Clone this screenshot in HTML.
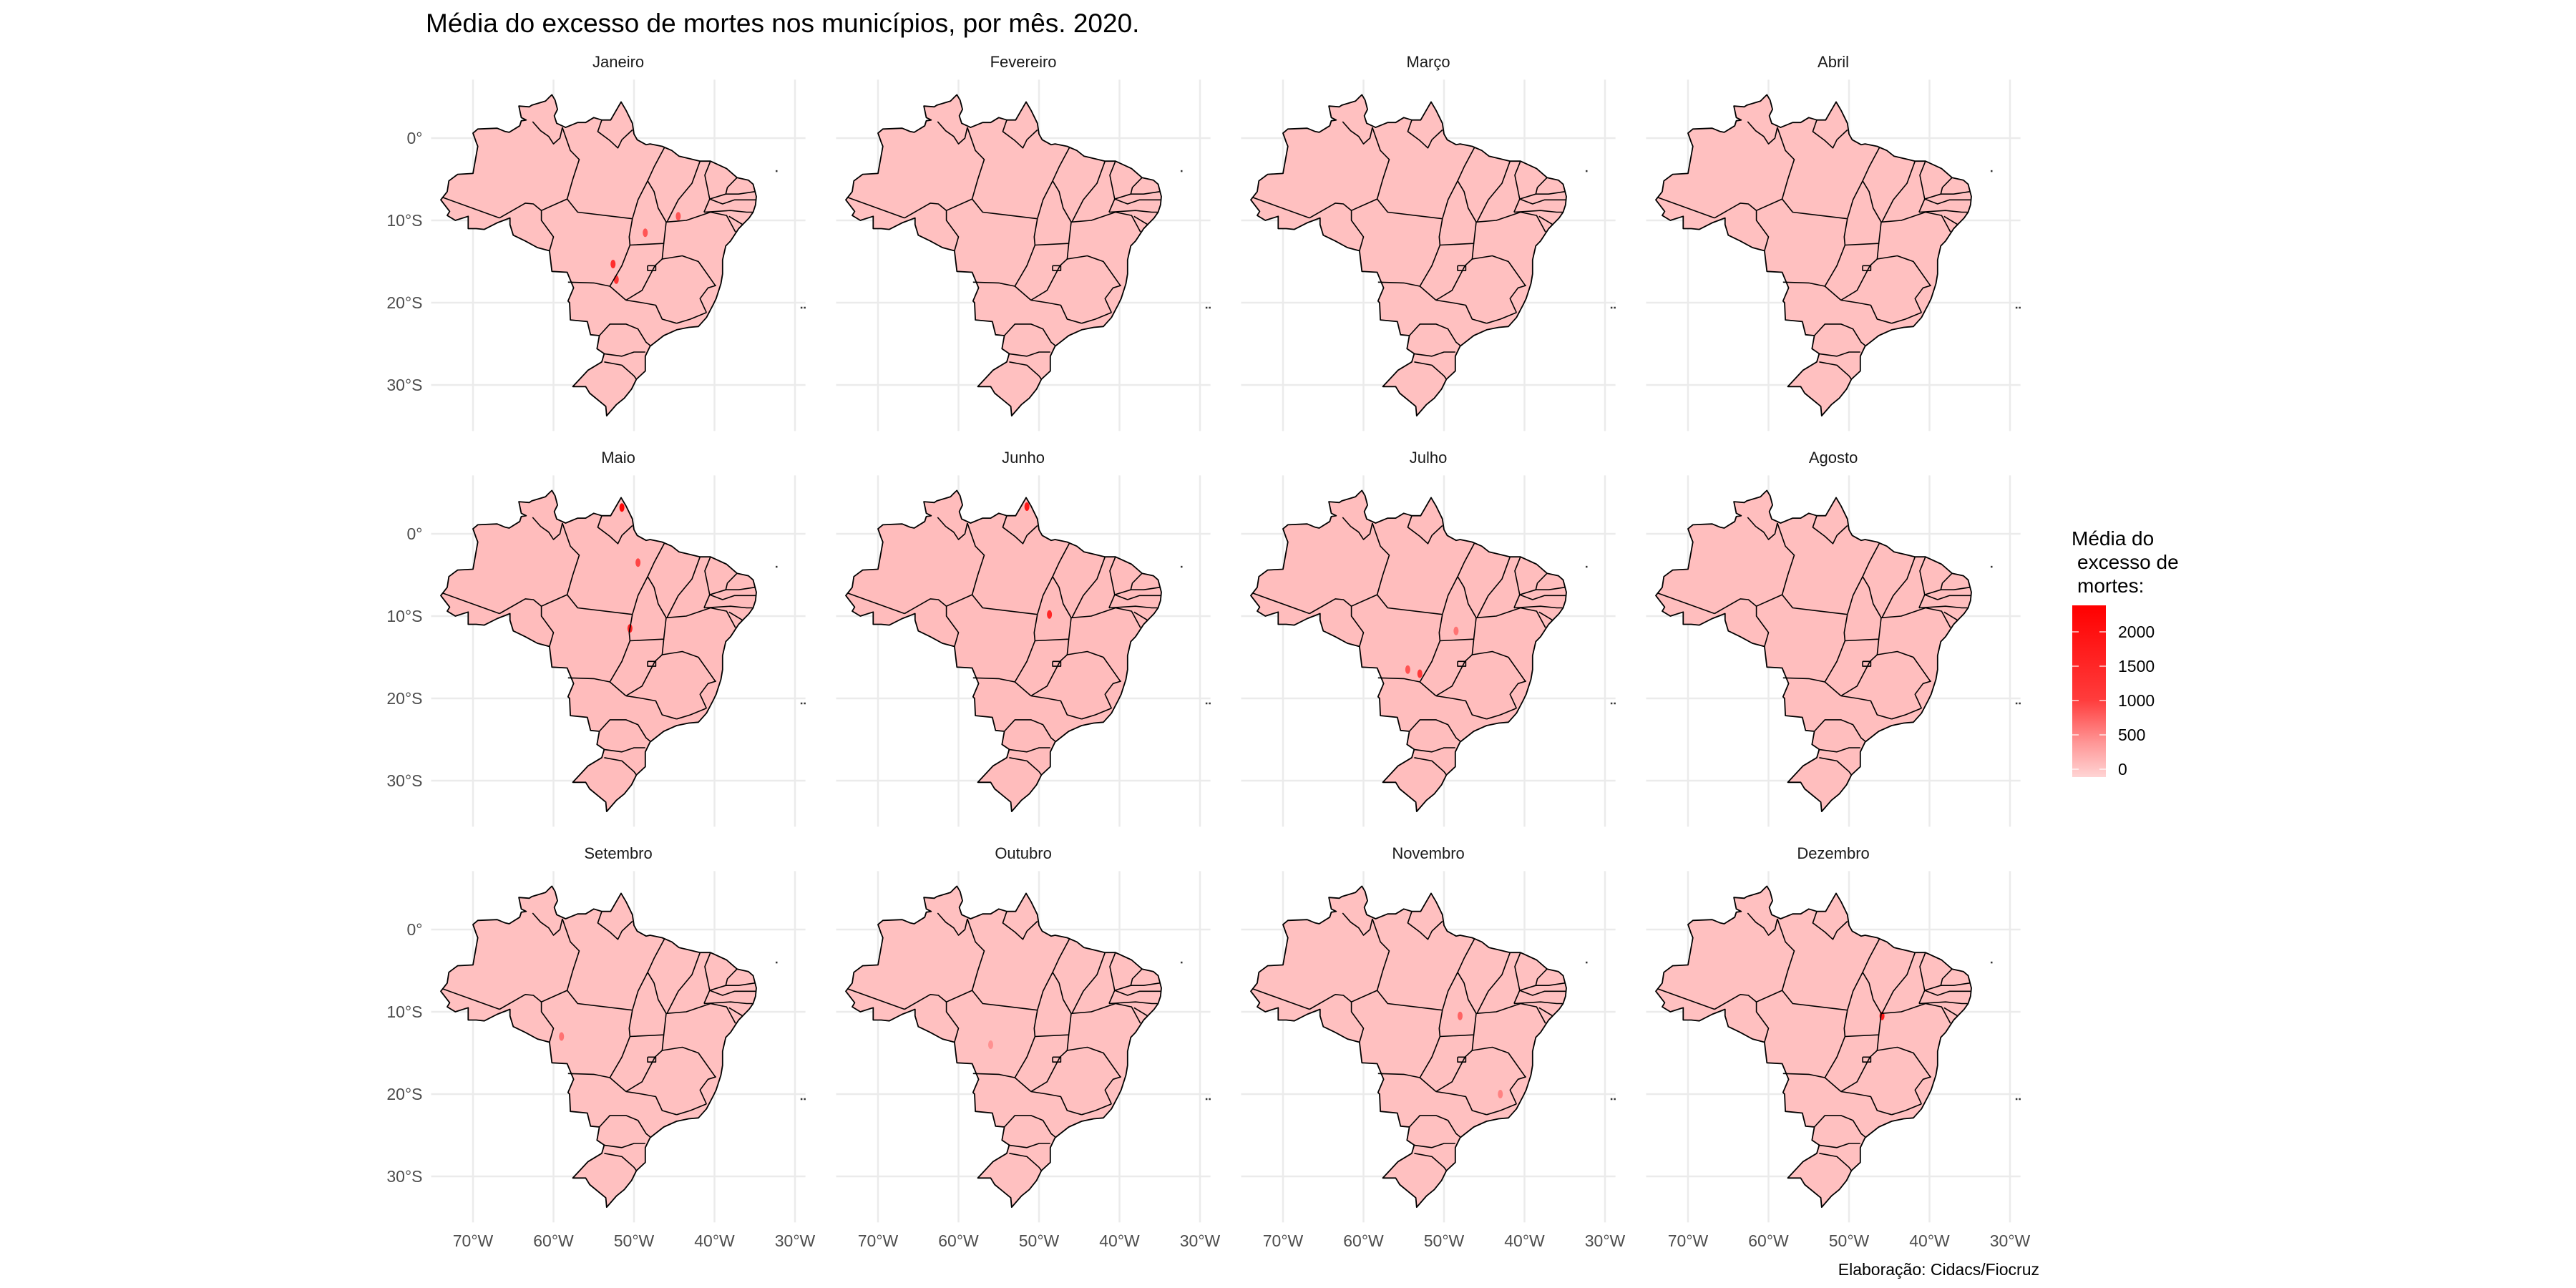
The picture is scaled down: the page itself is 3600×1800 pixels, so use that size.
<!DOCTYPE html>
<html><head><meta charset="utf-8">
<style>
html,body{margin:0;padding:0;background:#fff;}
svg{display:block;font-family:"Liberation Sans",sans-serif;}
</style></head>
<body>
<svg id="chart" width="3600" height="1800" viewBox="0 0 3600 1800" xmlns="http://www.w3.org/2000/svg">
<text x="595" y="45" font-size="37" fill="#000">Média do excesso de mortes nos municípios, por mês. 2020.</text>
<g id="panels"></g>
<g id="legend">
<text x="2895" y="762" font-size="28" fill="#000">Média do</text>
<text x="2903" y="795" font-size="28" fill="#000">excesso de</text>
<text x="2903" y="828" font-size="28" fill="#000">mortes:</text>
<defs><linearGradient id="lg" x1="0" y1="1" x2="0" y2="0">
<stop offset="0" stop-color="rgb(255,212,212)"/><stop offset="0.2" stop-color="rgb(255,150,150)"/><stop offset="0.45" stop-color="rgb(255,60,60)"/><stop offset="1" stop-color="rgb(255,0,0)"/></linearGradient></defs>
<rect x="2896" y="846" width="47" height="240" fill="url(#lg)"/>
<g id="legend-ticks"></g>
</g>
<text x="2850" y="1782" font-size="23" fill="#000" text-anchor="end">Elaboração: Cidacs/Fiocruz</text>
</svg>
<script>
const months = ["Janeiro","Fevereiro","Março","Abril","Maio","Junho","Julho","Agosto","Setembro","Outubro","Novembro","Dezembro"];
const baseValues = [150,155,155,155,185,185,175,165,155,155,155,155];
// hotspots per month: [lon, lat, value]
const hotspots = [
 [[-52.6,-15.3,1400],[-52.2,-17.2,1200],[-48.6,-11.5,900],[-44.5,-9.5,900]],
 [],
 [],
 [],
 [[-51.5,3.2,2200],[-49.5,-3.5,1000],[-50.5,-11.5,1600]],
 [[-51.5,3.3,1800],[-48.7,-9.8,1500]],
 [[-54.5,-16.5,900],[-53,-17,1100],[-48.5,-11.8,700]],
 [],
 [[-59,-13,700]],
 [[-56,-14,500]],
 [[-48,-10.5,800],[-43,-20,600]],
 [[-45.9,-10.5,1800]]
];
const latTicks = [0,-10,-20,-30];
const latLabels = ["0°","10°S","20°S","30°S"];
const lonTicks = [-70,-60,-50,-40,-30];
const lonLabels = ["70°W","60°W","50°W","40°W","30°W"];
const legendTicks = [0,500,1000,1500,2000];
const legendMax = 2350;

const outline = [[-51.6,4.4],[-51.0,3.4],[-50.2,1.8],[-50.0,0.5],[-49.6,-0.2],[-48.5,-0.8],[-48.0,-0.7],[-46.5,-1.0],[-45.3,-1.5],[-44.4,-2.2],[-43.5,-2.4],[-41.8,-2.8],[-40.5,-2.8],[-38.5,-3.7],[-37.2,-4.8],[-35.8,-5.1],[-35.2,-5.6],[-34.8,-7.1],[-34.9,-8.1],[-35.2,-9.0],[-35.7,-9.7],[-37.0,-11.0],[-38.0,-12.5],[-38.6,-13.1],[-39.0,-14.8],[-39.0,-16.5],[-39.2,-17.7],[-39.8,-19.5],[-40.2,-20.3],[-41.0,-21.8],[-42.0,-22.9],[-43.2,-23.0],[-44.7,-23.3],[-46.3,-24.0],[-48.0,-25.3],[-48.6,-26.5],[-48.6,-28.3],[-49.7,-29.3],[-50.3,-30.5],[-51.2,-31.6],[-52.2,-32.4],[-53.4,-33.75],[-53.5,-32.6],[-55.5,-31.0],[-56.0,-30.2],[-57.6,-30.2],[-55.7,-28.2],[-54.0,-27.2],[-53.7,-26.2],[-54.6,-25.6],[-54.3,-24.0],[-55.4,-23.9],[-55.8,-22.3],[-57.9,-22.1],[-58.0,-20.0],[-58.2,-19.8],[-57.5,-18.2],[-58.3,-16.3],[-60.2,-16.2],[-60.5,-13.7],[-62.0,-13.3],[-63.5,-12.5],[-65.0,-11.8],[-65.4,-10.5],[-65.4,-9.7],[-67.0,-10.3],[-68.6,-11.1],[-69.6,-11.0],[-70.6,-11.0],[-70.6,-9.5],[-72.2,-10.0],[-73.2,-9.4],[-72.9,-8.9],[-74.0,-7.5],[-73.2,-6.5],[-73.0,-5.2],[-71.9,-4.4],[-70.0,-4.3],[-69.4,-1.0],[-69.6,-0.5],[-70.0,0.6],[-69.4,1.1],[-67.0,1.2],[-66.0,0.8],[-65.5,0.7],[-64.2,1.5],[-64.0,2.1],[-63.4,2.2],[-64.0,2.5],[-64.3,3.9],[-63.0,3.8],[-62.7,4.0],[-61.0,4.5],[-60.6,4.9],[-60.2,5.27],[-59.8,4.6],[-59.5,3.5],[-59.9,2.7],[-59.6,1.8],[-58.5,1.3],[-57.0,1.9],[-56.0,1.9],[-55.0,2.5],[-54.0,2.2],[-52.9,2.2]];
const borders = [
 [[-62.6,2.0],[-61.6,0.9],[-60.6,0.2],[-60.0,-0.7],[-59.2,0.0],[-58.9,1.3]],
 [[-58.9,1.3],[-57.9,-1.5],[-56.8,-2.6],[-57.6,-5.0],[-58.3,-7.4]],
 [[-54.0,2.2],[-54.5,0.8],[-53.0,-0.3],[-52.0,-1.2],[-51.5,-0.2],[-50.2,1.0]],
 [[-73.8,-7.2],[-66.7,-9.7]],
 [[-66.7,-9.7],[-63.5,-7.9],[-62.5,-8.0],[-61.5,-8.8],[-61.5,-10.0],[-60.0,-12.0],[-60.5,-13.7]],
 [[-61.5,-8.8],[-58.3,-7.4],[-57.0,-9.0],[-50.2,-9.8]],
 [[-50.2,-9.8],[-49.5,-7.5],[-48.3,-5.2],[-47.5,-6.5],[-47.0,-8.5],[-46.0,-10.2],[-46.3,-12.8],[-50.5,-13.0]],
 [[-50.2,-9.8],[-50.6,-12.0],[-50.5,-13.0],[-51.5,-15.5],[-53.0,-18.0],[-51.0,-19.7]],
 [[-58.2,-17.5],[-55.0,-17.6],[-53.0,-18.0]],
 [[-48.3,-5.2],[-47.5,-3.5],[-46.2,-1.1]],
 [[-41.8,-2.8],[-42.8,-5.5],[-44.5,-7.5],[-45.9,-10.2]],
 [[-40.5,-2.8],[-41.2,-4.5],[-40.6,-7.4],[-41.3,-9.0]],
 [[-46.0,-10.2],[-43.5,-10.0],[-42.0,-9.5],[-40.5,-9.0],[-38.5,-9.4],[-37.4,-11.4]],
 [[-37.2,-4.8],[-38.4,-6.0],[-38.6,-6.8],[-37.0,-6.8],[-35.0,-6.5]],
 [[-38.6,-6.8],[-40.6,-7.4],[-39.0,-8.0],[-37.5,-7.5],[-34.8,-7.5]],
 [[-41.3,-9.0],[-38.0,-8.8],[-36.0,-9.0],[-35.2,-9.0]],
 [[-38.2,-9.5],[-36.5,-10.5],[-37.0,-11.0]],
 [[-46.3,-12.8],[-46.5,-14.7],[-44.0,-14.3],[-42.0,-15.0],[-39.9,-17.9]],
 [[-51.0,-19.7],[-49.0,-18.5],[-47.4,-15.5],[-46.5,-14.7]],
 [[-51.0,-19.7],[-49.0,-20.0],[-47.3,-20.3],[-46.5,-22.0],[-44.7,-22.5]],
 [[-44.7,-22.5],[-43.0,-22.0],[-41.0,-21.2]],
 [[-39.8,-17.9],[-40.8,-18.2],[-41.8,-19.5],[-41.0,-21.2]],
 [[-48.3,-15.5],[-47.3,-15.5],[-47.3,-16.1],[-48.3,-16.1],[-48.3,-15.5]],
 [[-54.3,-24.0],[-53.0,-22.6],[-51.0,-22.6],[-49.5,-23.2],[-48.5,-24.8],[-48.0,-25.2]],
 [[-53.8,-26.2],[-51.5,-26.5],[-50.0,-26.0],[-48.6,-26.0]],
 [[-53.7,-27.2],[-51.5,-27.6],[-50.0,-28.9],[-49.7,-29.3]]
];

const NS = "http://www.w3.org/2000/svg";
const panelsG = document.getElementById('panels');
const colW = 566, rowH = 553;
function mk(tag, attrs, parent){const e=document.createElementNS(NS,tag);for(const k in attrs)e.setAttribute(k,attrs[k]);parent.appendChild(e);return e;}
function xScale(col, lon){return 661 + col*colW + (lon+70)*11.25;}
function yScale(row, lat){return 193 + row*rowH + (-lat)*11.5;}
function colorFor(v){
 const t=Math.max(0,Math.min(1,v/legendMax));
 const stops=[[0,[255,212,212]],[0.2,[255,150,150]],[0.45,[255,60,60]],[1,[255,0,0]]];
 for(let i=1;i<stops.length;i++){if(t<=stops[i][0]){const a=stops[i-1],b=stops[i];const f=(t-a[0])/(b[0]-a[0]);const c=a[1].map((x,j)=>Math.round(x+(b[1][j]-x)*f));return `rgb(${c[0]},${c[1]},${c[2]})`;}}
 return 'rgb(255,0,0)';
}
function pathOf(pts,col,row,close){return pts.map((p,i)=>(i?'L':'M')+xScale(col,p[0]).toFixed(1)+','+yScale(row,p[1]).toFixed(1)).join('')+(close?'Z':'');}

months.forEach((m,i)=>{
 const col=i%4,row=Math.floor(i/4);
 const g=mk('g',{},panelsG);
 
 
 const top=yScale(row,7.1), bot=yScale(row,-35.6), left=xScale(col,-75.2), right=xScale(col,-28.7);
 latTicks.forEach(lt=>{const l=mk('line',{x1:left,x2:right,y1:yScale(row,lt),y2:yScale(row,lt),stroke:'#ebebeb','stroke-width':2.5},g);
  });
 lonTicks.forEach(ln=>{const l=mk('line',{x1:xScale(col,ln),x2:xScale(col,ln),y1:top,y2:bot,stroke:'#ebebeb','stroke-width':2.5},g);
  });
 const st=mk('text',{x:(left+right)/2,y:yScale(row,0)-99,'font-size':22,fill:'#1a1a1a','text-anchor':'middle'},g);
 st.textContent=m;
 const shape=mk('path',{d:pathOf(outline,col,row,true),fill:colorFor(baseValues[i]),stroke:'#000','stroke-width':1.8,'stroke-linejoin':'round'},g);
 
 hotspots[i].forEach(h=>{const c=mk('ellipse',{cx:xScale(col,h[0]),cy:yScale(row,h[1]),rx:3.5,ry:6,fill:colorFor(h[2])},g);
  });
 borders.forEach(b=>{const p=mk('path',{d:pathOf(b,col,row,false),fill:'none',stroke:'#000','stroke-width':1.6,'stroke-linejoin':'round'},g);
  });
 [[-32.4,-3.9],[-29.3,-20.5],[-28.9,-20.5]].forEach(d=>{const r=mk('rect',{x:xScale(col,d[0]),y:yScale(row,d[1]),width:2.5,height:2.5,fill:'#333'},g);
  });
 if(col===0){latTicks.forEach((lt,k)=>{const t=mk('text',{x:left-12,y:yScale(row,lt)+8,'font-size':23,fill:'#4d4d4d','text-anchor':'end'},g);
  t.textContent=latLabels[k];});}
 if(row===2){lonTicks.forEach((ln,k)=>{const t=mk('text',{x:xScale(col,ln),y:1742,'font-size':23,fill:'#4d4d4d','text-anchor':'middle'},g);
  t.textContent=lonLabels[k];});}
});

const lt=document.getElementById('legend-ticks');
legendTicks.forEach(v=>{
 const yy=1075-(v/2000)*(1075-883);
 const a=mk('line',{x1:2896,x2:2905,y1:yy,y2:yy,stroke:'#fff','stroke-width':1.5,opacity:0.8},lt);
 
 const b=mk('line',{x1:2934,x2:2943,y1:yy,y2:yy,stroke:'#fff','stroke-width':1.5,opacity:0.8},lt);
 
 const t=mk('text',{x:2960,y:yy+8,'font-size':23,fill:'#000'},lt);
 t.textContent=String(v);
});
</script>
</body></html>
